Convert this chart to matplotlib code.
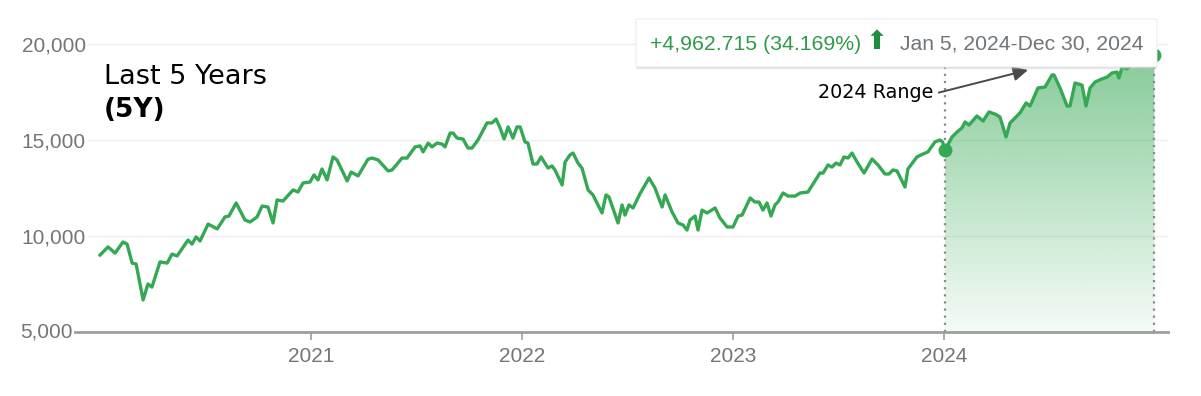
import numpy as np
import matplotlib.pyplot as plt
from matplotlib.patches import FancyBboxPatch, Polygon

# weekly closes, x in fractional years
years = np.array([
    2020.000, 2020.038, 2020.071, 2020.109, 2020.128, 2020.152, 2020.171, 2020.204,
    2020.227, 2020.246, 2020.284, 2020.318, 2020.341, 2020.365, 2020.417, 2020.436,
    2020.455, 2020.474, 2020.512, 2020.555, 2020.592, 2020.611, 2020.645, 2020.687,
    2020.711, 2020.744, 2020.768, 2020.796, 2020.820, 2020.839, 2020.867, 2020.915,
    2020.938, 2020.962, 2020.995, 2021.014, 2021.033, 2021.052, 2021.076, 2021.104,
    2021.123, 2021.171, 2021.190, 2021.223, 2021.270, 2021.289, 2021.318, 2021.365,
    2021.384, 2021.408, 2021.431, 2021.455, 2021.493, 2021.517, 2021.531, 2021.555,
    2021.573, 2021.597, 2021.621, 2021.635, 2021.659, 2021.673, 2021.692, 2021.720,
    2021.744, 2021.763, 2021.791, 2021.834, 2021.858, 2021.877, 2021.896, 2021.915,
    2021.934, 2021.957, 2021.976, 2021.991, 2022.014, 2022.028, 2022.052, 2022.071,
    2022.090, 2022.123, 2022.142, 2022.156, 2022.190, 2022.204, 2022.227, 2022.242,
    2022.265, 2022.284, 2022.313, 2022.336, 2022.379, 2022.398, 2022.412, 2022.455,
    2022.474, 2022.488, 2022.507, 2022.526, 2022.559, 2022.602, 2022.630, 2022.664,
    2022.678, 2022.711, 2022.739, 2022.763, 2022.782, 2022.796, 2022.820, 2022.834,
    2022.853, 2022.877, 2022.915, 2022.938, 2022.972, 2023.000, 2023.024, 2023.043,
    2023.081, 2023.104, 2023.123, 2023.142, 2023.161, 2023.180, 2023.199, 2023.213,
    2023.237, 2023.261, 2023.294, 2023.318, 2023.355, 2023.412, 2023.427, 2023.450,
    2023.469, 2023.488, 2023.507, 2023.526, 2023.545, 2023.564, 2023.588, 2023.621,
    2023.659, 2023.687, 2023.720, 2023.739, 2023.758, 2023.777, 2023.815, 2023.829,
    2023.872, 2023.900, 2023.924, 2023.957, 2023.981, 2023.993, 2024.005, 2024.038,
    2024.062, 2024.085, 2024.100, 2024.118, 2024.156, 2024.185, 2024.213, 2024.242,
    2024.265, 2024.294, 2024.313, 2024.360, 2024.389, 2024.408, 2024.445, 2024.479,
    2024.512, 2024.521, 2024.550, 2024.583, 2024.597, 2024.621, 2024.654, 2024.673,
    2024.692, 2024.716, 2024.749, 2024.773, 2024.796, 2024.820, 2024.829, 2024.844,
    2024.867, 2024.896, 2024.929, 2024.957, 2024.980, 2024.997])

values = np.array([
    9010, 9430, 9110, 9690, 9580, 8590, 8540, 6670,
    7500, 7340, 8650, 8590, 9060, 8960, 9790, 9580,
    9950, 9740, 10620, 10370, 10990, 11040, 11720, 10830,
    10730, 10990, 11560, 11510, 10680, 11880, 11820, 12400,
    12290, 12760, 12810, 13180, 12920, 13490, 12920, 14120,
    13960, 12870, 13330, 13130, 14000, 14060, 13960, 13390,
    13440, 13750, 14060, 14060, 14640, 14690, 14380, 14840,
    14640, 14840, 14790, 14640, 15360, 15360, 15100, 15050,
    14580, 14580, 15000, 15890, 15890, 16090, 15630, 15050,
    15680, 15100, 15680, 15680, 14900, 14840, 13750, 13750,
    14120, 13540, 13650, 13440, 12660, 13850, 14220, 14320,
    13800, 13540, 12400, 12140, 11200, 12140, 12030, 10680,
    11620, 11090, 11620, 11460, 12200, 13020, 12500, 11510,
    12140, 11250, 10680, 10570, 10310, 10830, 11040, 10310,
    11350, 11200, 11460, 10940, 10470, 10470, 11040, 11090,
    11980, 11770, 11770, 11350, 11720, 11040, 11620, 11770,
    12240, 12080, 12080, 12240, 12290, 13280, 13280, 13700,
    13590, 13800, 13700, 14120, 14060, 14320, 13850, 13280,
    14010, 13700, 13230, 13230, 13440, 13390, 12550, 13490,
    14120, 14270, 14380, 14900, 15000, 14900, 14480, 15160,
    15420, 15630, 15940, 15780, 16250, 15990, 16460, 16350,
    16200, 15160, 15890, 16410, 16930, 16770, 17710, 17760,
    18390, 18390, 17710, 16770, 16770, 17970, 17860, 16770,
    17710, 18020, 18180, 18280, 18490, 18540, 18230, 18800,
    18700, 19010, 19250, 19150, 19380, 19443])

range_start = 2024.005
range_end = 2024.997
change = 4962.715
change_pct = 34.169
range_text = "Jan 5, 2024-Dec 30, 2024"
year_ticks = [2021, 2022, 2023, 2024]
grid_ticks = [10000, 15000, 20000]

green = '#34a853'
label_grey = '#757575'

fig = plt.figure(figsize=(12.01, 3.96), dpi=100)
ax = fig.add_axes([0.0733, 0.1616, 0.8993, 0.7753])

# gradient under the 2024 segment
mask = years >= range_start
xs, ys = years[mask], values[mask]
verts = list(zip(xs, ys)) + [(xs[-1], 5000), (xs[0], 5000)]
clip = Polygon(verts, closed=True, facecolor='none', edgecolor='none')
ax.add_patch(clip)
n = 256
grad = np.zeros((n, 1, 4))
grad[:, 0, 0] = 52 / 255
grad[:, 0, 1] = 168 / 255
grad[:, 0, 2] = 83 / 255
grad[:, 0, 3] = np.linspace(0.6, 0.05, n)
im = ax.imshow(grad, extent=[xs[0], xs[-1], 5000, ys.max()], aspect='auto',
               origin='upper', zorder=2)
im.set_clip_path(clip)

ax.axvline(range_start, color='#8a8a8a', ls=(0, (1, 2.2)), lw=1.6, zorder=2.5)
ax.axvline(range_end, color='#8a8a8a', ls=(0, (1, 2.2)), lw=1.6, zorder=2.5)

ax.plot(years, values, color=green, lw=2.4, zorder=3, solid_joinstyle='round')
ax.plot([xs[0], xs[-1]], [ys[0], ys[-1]], 'o', ms=9, color=green, zorder=4)

ax.set_xlim(2019.943, 2025.062)
ax.set_ylim(5000, 20990)

ax.set_yticks(grid_ticks)
ax.set_yticklabels([f'{v:,}' for v in grid_ticks])
ax.grid(axis='y', color='#eeeeee', lw=1, zorder=1)
ax.set_axisbelow(True)
ax.tick_params(axis='y', length=0, pad=1.5, labelsize=15, labelcolor=label_grey)
ax.text(-15 / 1080, 0, '5,000', transform=ax.transAxes, ha='right', va='center',
        fontsize=15, color=label_grey, family='Liberation Sans')

ax.set_xticks(year_ticks)
ax.set_xticklabels([str(y) for y in year_ticks])
ax.tick_params(axis='x', length=6, width=1.2, color='#9e9e9e', pad=5,
               labelsize=15, labelcolor=label_grey)
for lab in ax.get_xticklabels() + ax.get_yticklabels():
    lab.set_family('Liberation Sans')

for s in ['top', 'right', 'left', 'bottom']:
    ax.spines[s].set_visible(False)
ax.plot([-13 / 1080, 1], [0, 0], transform=ax.transAxes, color='#9e9e9e',
        lw=2, clip_on=False, zorder=5)

fig.text(104 / 1201, 1 - 77 / 396, 'Last 5 Years', fontsize=19.5, va='center',
         color='black', family='DejaVu Sans')
fig.text(104 / 1201, 1 - 110 / 396, '(5Y)', fontsize=19, va='center',
         color='black', weight='bold', family='DejaVu Sans')

ax.annotate('2024 Range', xy=(1028 / 1201, 1 - 70 / 396), xycoords='figure fraction',
            xytext=(818 / 1201, 1 - 93 / 396), textcoords='figure fraction',
            ha='left', va='center', fontsize=13.8, family='DejaVu Sans', zorder=6,
            arrowprops=dict(arrowstyle='-|>', color='#4a4a4a', lw=1.4,
                            mutation_scale=22, shrinkA=2, shrinkB=0,
                            relpos=(1, 0.45)))

# summary box
bx, by, bw, bh = 636 / 1201, 1 - 67 / 396, 521 / 1201, 48 / 396
for k, a in enumerate([0.35, 0.25, 0.15]):
    shadow = FancyBboxPatch((bx, by - 0.0025 * (k + 1)), bw, bh,
                            boxstyle='round,pad=0,rounding_size=0.003',
                            transform=fig.transFigure, fc='#c8c8c8', ec='none',
                            alpha=a, zorder=9)
    fig.add_artist(shadow)
box = FancyBboxPatch((bx, by), bw, bh, boxstyle='round,pad=0,rounding_size=0.003',
                     transform=fig.transFigure, fc='white', ec='#e6e6e6', lw=0.6,
                     zorder=10)
fig.add_artist(box)
fig.text(650 / 1201, 1 - 44 / 396, f'+{change:,.3f} ({change_pct:.3f}%)',
         fontsize=15.3, color='#2f9a48', va='center', family='Liberation Sans', zorder=11)
fig.text(866 / 1201, 1 - 42 / 396, '\u2b06', fontsize=19, color='#1e8e3e',
         va='center', family='DejaVu Sans', zorder=11)
fig.text(900 / 1201, 1 - 44 / 396, range_text, fontsize=15.2, color='#70757a',
         va='center', family='Liberation Sans', zorder=11)

fig.savefig('out.png', dpi=100)
